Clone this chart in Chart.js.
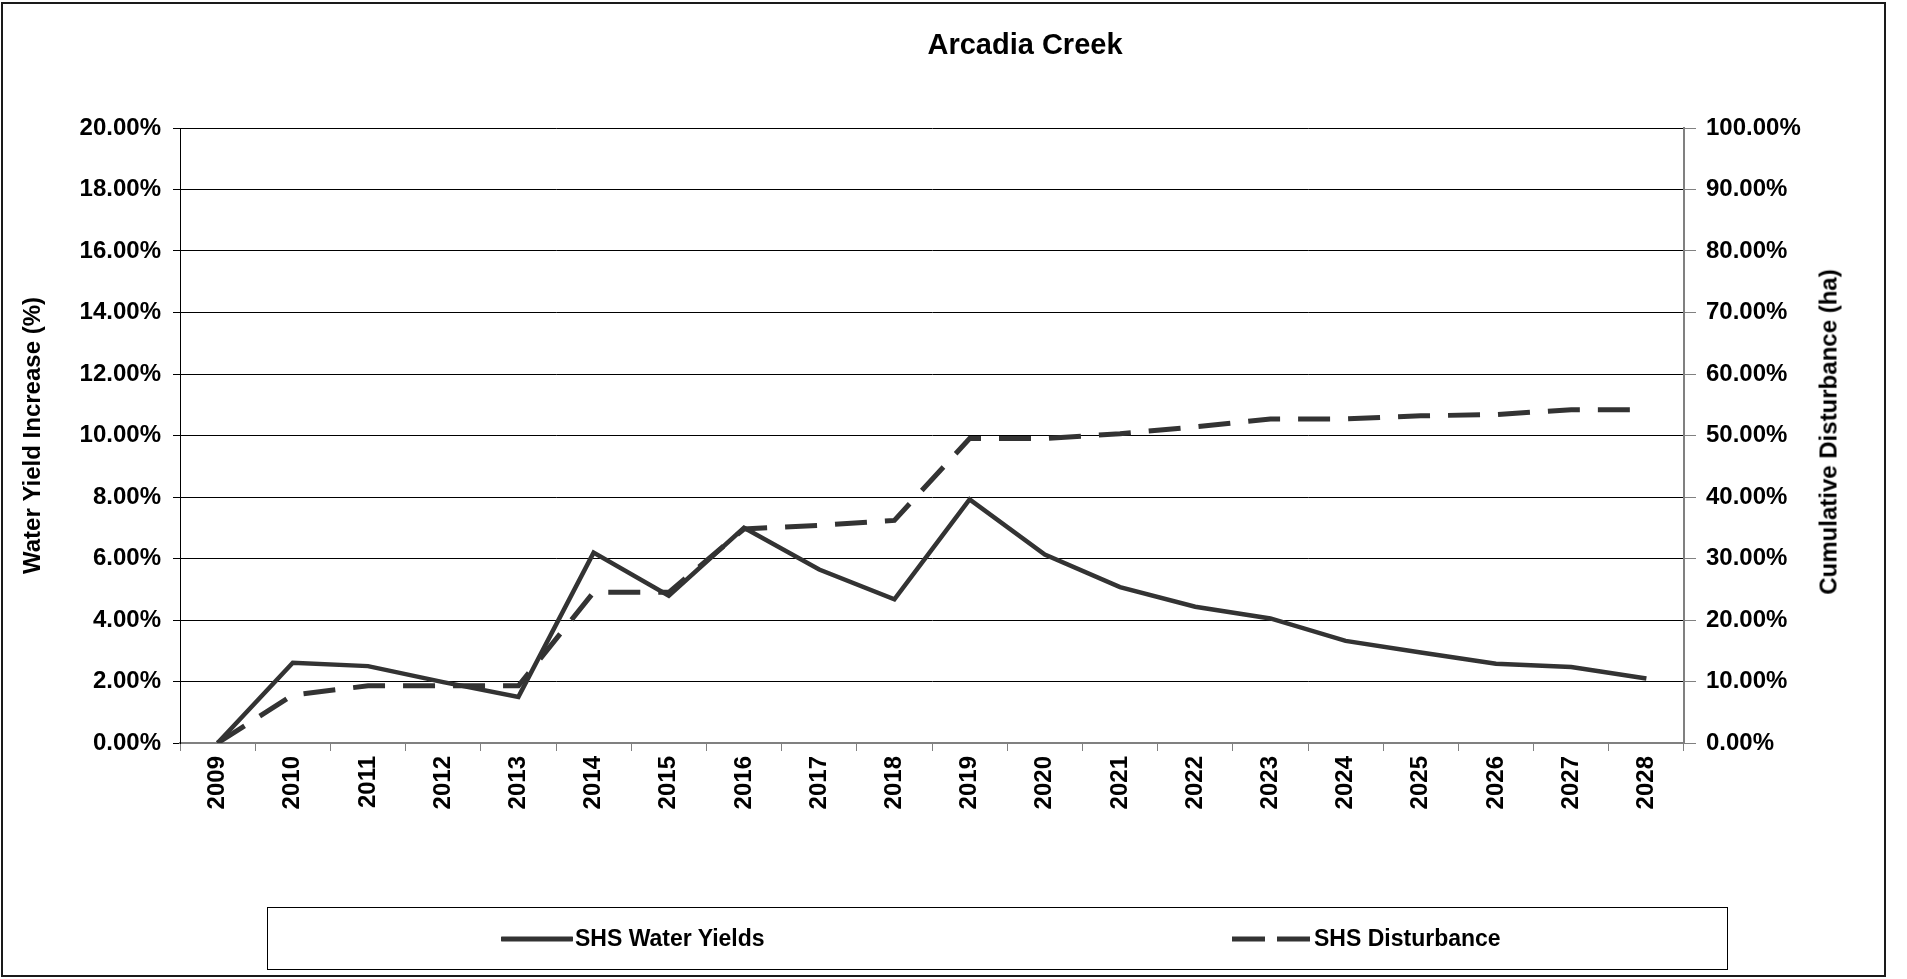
<!DOCTYPE html>
<html>
<head>
<meta charset="utf-8">
<title>Arcadia Creek</title>
<script src="https://cdn.jsdelivr.net/npm/chart.js@4/dist/chart.umd.min.js"></script>
<style>
  html, body { margin: 0; padding: 0; background: #fff; }
  body { width: 1907px; height: 979px; position: relative; overflow: hidden; font-family: "Liberation Sans", Arial, sans-serif; }
  #frame { position: absolute; left: 1px; top: 2px; width: 1885px; height: 975px; box-sizing: border-box; border: 2px solid #1a1a1a; }
  #chart { position: absolute; left: 0; top: 0; }
  #title { position: absolute; left: 1025px; top: 27px; transform: translateX(-50%); font-weight: bold; font-size: 29px; line-height: 34px; white-space: nowrap; color: #000; }
  /* right axis title reads bottom to top, like the left one */
  #rightTitle { position: absolute; left: 1828px; top: 432px; transform: translate(-50%, -50%) rotate(-90deg); font-weight: bold; font-size: 24px; line-height: 29px; white-space: nowrap; color: #000; }
  #legend { position: absolute; left: 267px; top: 907px; width: 1461px; height: 63px; box-sizing: border-box; border: 1px solid #000; font-weight: bold; font-size: 23px; color: #000; }
  .item { position: absolute; top: 0; height: 61px; display: flex; align-items: center; white-space: nowrap; }
  .item svg { display: block; margin-right: 2px; }
</style>
</head>
<body>
<div id="frame"></div>
<canvas id="chart" width="1907" height="979"></canvas>
<div id="title">Arcadia Creek</div>
<div id="rightTitle">Cumulative Disturbance (ha)</div>
<div id="legend">
  <div class="item" style="left:233px">
    <svg width="72" height="10"><line x1="1" y1="5" x2="71" y2="5" stroke="#333" stroke-width="5" stroke-linecap="round"/></svg>
    <span>SHS Water Yields</span>
  </div>
  <div class="item" style="left:964px">
    <svg width="80" height="10"><line x1="0" y1="5" x2="79" y2="5" stroke="#333" stroke-width="5" stroke-dasharray="33 12"/></svg>
    <span>SHS Disturbance</span>
  </div>
</div>
<script>
// years on the category axis
const years = ['2009', '2010', '2011', '2012', '2013', '2014', '2015', '2016', '2017', '2018',
  '2019', '2020', '2021', '2022', '2023', '2024', '2025', '2026', '2027', '2028'];

// left axis, water yield increase in %
const waterYields = [0.00, 2.61, 2.50, 1.98, 1.50, 6.19, 4.79, 7.00, 5.64, 4.67,
  7.92, 6.13, 5.07, 4.43, 4.05, 3.32, 2.94, 2.58, 2.47, 2.10];

// right axis, cumulative disturbance in %
const disturbance = [0.0, 7.8, 9.3, 9.3, 9.3, 24.5, 24.5, 34.8, 35.4, 36.2,
  49.5, 49.5, 50.3, 51.4, 52.7, 52.7, 53.2, 53.4, 54.2, 54.2];

const pct = v => Number(v).toFixed(2) + '%';

Chart.defaults.font.family = '"Liberation Sans", Arial, sans-serif';
Chart.defaults.font.weight = 'bold';
Chart.defaults.font.size = 24;
Chart.defaults.color = '#000';

new Chart(document.getElementById('chart'), {
  type: 'line',
  data: {
    labels: years,
    datasets: [
      {
        label: 'SHS Water Yields',
        data: waterYields,
        yAxisID: 'y',
        borderColor: '#333333',
        borderWidth: 4.5,
        pointRadius: 0,
        tension: 0,
        fill: false
      },
      {
        label: 'SHS Disturbance',
        data: disturbance,
        yAxisID: 'y1',
        borderColor: '#333333',
        borderWidth: 5,
        borderDash: [32, 18],
        pointRadius: 0,
        tension: 0,
        fill: false
      }
    ]
  },
  options: {
    responsive: false,
    devicePixelRatio: 1,
    animation: false,
    layout: { padding: { left: 5, right: 43, top: 128, bottom: 136 } },
    plugins: {
      legend: { display: false },
      title: { display: false },
      tooltip: { enabled: false }
    },
    scales: {
      x: {
        offset: true,
        grid: { display: true, drawOnChartArea: false, offset: true, tickLength: 8, color: '#808080', lineWidth: 1 },
        border: { color: '#808080', width: 2 },
        ticks: { autoSkip: false, minRotation: 90, maxRotation: 90, padding: 5 },
        afterFit: s => { s.height = 100; }
      },
      y: {
        position: 'left',
        min: 0,
        max: 20,
        ticks: { stepSize: 2, padding: 12, callback: pct },
        grid: { color: '#000', lineWidth: 1, tickLength: 7 },
        border: { color: '#000', width: 1 },
        title: { display: true, text: 'Water Yield Increase (%)', padding: { top: 13.6, bottom: 0 } },
        afterFit: s => { s.width = 175; }
      },
      y1: {
        position: 'right',
        min: 0,
        max: 100,
        ticks: { stepSize: 10, padding: 10, callback: pct },
        grid: { drawOnChartArea: false, tickLength: 12, color: '#808080' },
        border: { color: '#808080', width: 2 },
        afterFit: s => { s.width = 180; }
      }
    }
  }
});
</script>
</body>
</html>
